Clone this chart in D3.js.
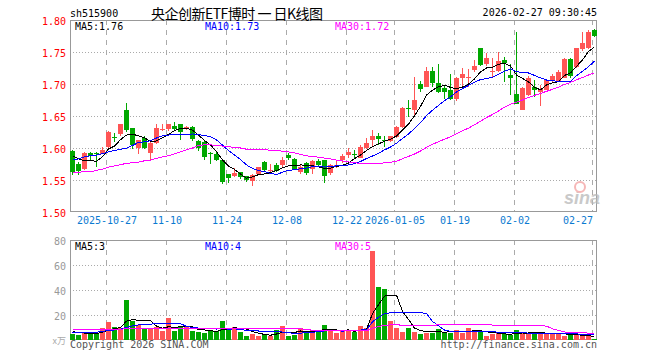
<!DOCTYPE html>
<html>
<head>
<meta charset="utf-8">
<script src="https://cdnjs.cloudflare.com/ajax/libs/d3/7.8.5/d3.min.js"></script>
<style>
  body { margin: 0; background: #fff; }
  svg { display: block; }
  text { font-family: "DejaVu Sans Mono", "Liberation Mono", monospace; font-size: 10px; }
</style>
</head>
<body>
<svg id="chart" width="660" height="360"></svg>
<script>
// daily candles, 2025-10-17 .. 2026-02-27
let opens = [1.596,1.575,1.567,1.592,1.592,1.591,1.601,1.617,1.621,1.659,
  1.631,1.600,1.615,1.593,1.608,1.629,1.629,1.635,1.637,1.630,
  1.633,1.611,1.610,1.592,1.590,1.582,1.559,1.556,1.562,1.556,
  1.549,1.559,1.578,1.564,1.573,1.573,1.589,1.583,1.563,1.576,
  1.567,1.580,1.581,1.562,1.570,1.581,1.588,1.591,1.585,1.600,
  1.611,1.618,1.612,1.610,1.617,1.633,1.663,1.659,1.700,1.696,
  1.721,1.702,1.694,1.690,1.676,1.710,1.710,1.721,1.756,1.730,
  1.720,1.720,1.738,1.714,1.684,1.660,1.683,1.695,1.688,1.691,
  1.705,1.704,1.710,1.739,1.727,1.754,1.757,1.785];
let highs = [1.597,1.578,1.593,1.593,1.594,1.602,1.626,1.623,1.638,1.671,
  1.632,1.613,1.618,1.609,1.637,1.638,1.638,1.640,1.638,1.635,
  1.634,1.612,1.611,1.594,1.594,1.583,1.560,1.568,1.563,1.557,
  1.559,1.571,1.579,1.575,1.576,1.586,1.592,1.584,1.575,1.578,
  1.582,1.583,1.582,1.575,1.580,1.590,1.600,1.597,1.605,1.615,
  1.628,1.623,1.619,1.619,1.635,1.664,1.675,1.711,1.704,1.727,
  1.727,1.732,1.699,1.716,1.711,1.725,1.724,1.737,1.757,1.748,
  1.740,1.750,1.742,1.731,1.782,1.696,1.712,1.706,1.698,1.708,
  1.716,1.722,1.741,1.741,1.757,1.782,1.784,1.786];
let lows = [1.558,1.558,1.566,1.579,1.570,1.590,1.600,1.610,1.619,1.625,
  1.598,1.591,1.598,1.580,1.607,1.627,1.626,1.627,1.613,1.628,
  1.611,1.596,1.581,1.575,1.580,1.544,1.545,1.554,1.552,1.547,
  1.541,1.558,1.562,1.561,1.562,1.571,1.581,1.566,1.560,1.558,
  1.559,1.572,1.546,1.558,1.568,1.576,1.585,1.584,1.584,1.599,
  1.601,1.605,1.602,1.609,1.616,1.632,1.648,1.652,1.688,1.695,
  1.696,1.686,1.677,1.675,1.673,1.696,1.696,1.719,1.728,1.728,
  1.711,1.718,1.703,1.683,1.668,1.659,1.682,1.680,1.666,1.690,
  1.703,1.703,1.709,1.709,1.725,1.752,1.755,1.773];
let closes = [1.563,1.564,1.592,1.587,1.591,1.597,1.625,1.615,1.637,1.627,
  1.604,1.612,1.600,1.608,1.631,1.630,1.637,1.630,1.625,1.633,
  1.614,1.600,1.586,1.591,1.581,1.548,1.552,1.561,1.554,1.549,
  1.558,1.570,1.566,1.565,1.564,1.581,1.584,1.568,1.571,1.560,
  1.579,1.574,1.556,1.574,1.573,1.587,1.593,1.590,1.602,1.608,
  1.618,1.614,1.611,1.618,1.633,1.663,1.662,1.675,1.692,1.721,
  1.702,1.688,1.687,1.676,1.709,1.716,1.711,1.728,1.730,1.740,
  1.721,1.736,1.734,1.710,1.669,1.694,1.710,1.690,1.692,1.706,
  1.712,1.718,1.739,1.712,1.756,1.764,1.782,1.776];
// volume, 万
let volumes = [4.8,4.0,5.9,5.3,5.9,9.6,14.4,10.1,9.6,32.0,
  15.5,11.7,9.6,8.5,10.1,7.2,17.6,7.2,11.2,10.1,
  7.2,6.4,5.6,8.0,6.9,15.2,8.5,10.1,6.4,3.2,
  4.8,3.2,4.5,3.5,8.0,11.2,3.2,4.0,9.6,7.2,
  8.0,6.4,12.0,8.0,5.6,7.2,7.5,6.7,11.2,9.6,
  71.2,42.4,41.1,15.5,9.3,6.4,9.9,6.7,5.1,5.9,
  5.9,8.8,5.9,5.9,8.0,5.9,9.6,7.2,6.4,3.2,
  4.8,5.6,4.5,4.3,8.0,5.6,5.6,5.3,5.3,5.3,
  5.3,5.3,3.2,4.0,3.7,2.9,3.2,1.1];

// moving average values before a full window is available
let ma5Lead = [1.588,1.583,1.580,1.580];
let ma10Lead = [1.581,1.583,1.586,1.588,1.589,1.591,1.594,1.596,1.598];
let ma30Lead = [1.562,1.562,1.563,1.563,1.565,1.567,1.570,1.572,1.574,1.576,
  1.577,1.578,1.580,1.581,1.584,1.586,1.588,1.591,1.594,1.597,
  1.600,1.604,1.605,1.605,1.604,1.603,1.602,1.601,1.600];
let volMa5Lead = [6.7,6.0,5.6,5.6];
let volMa10Lead = [6.2,6.1,6.1,6.1,6.2,6.8,7.6,8.0,8.5];
let volMa30Lead = [8.5,8.5,8.5,8.5,8.5,8.5,8.5,8.5,8.5,9.3,
  9.3,9.3,9.3,9.3,9.3,9.3,9.3,9.3,9.3,9.3,
  9.3,9.3,9.3,9.3,9.3,9.3,9.3,9.3,9.3];

let tickIndex = [6,16,26,36,46,54,64,74,87];
let tickLabels = ['2025-10-27','11-10','11-24','12-08','12-22','2026-01-05','01-19','02-02','02-27'];
let priceTicks = [1.50,1.55,1.60,1.65,1.70,1.75,1.80];
let volumeTicks = [20,40,60,80];
let maLabels = ['MA5:1.76','MA10:1.73','MA30:1.72'];
let volMaLabels = ['MA5:3','MA10:4','MA30:5'];
let maColors = ['#000000','#0000ff','#ff00ff'];

let up = '#ff5555';
let down = '#00a800';
let gridColor = '#aaaaaa';

let svg = d3.select('#chart');
let n = closes.length;

let left = 70, right = 597;
let priceTop = 20, priceBottom = 212;
let volTop = 240, volBottom = 340;

let x = d3.scaleLinear().domain([0, n - 1]).range([72.5, 594.5]);
let xGrid = d3.scaleLinear().domain([0, n - 1]).range([70.5, 592.5]);
let yPrice = d3.scaleLinear().domain([1.50, 1.80]).range([priceBottom, priceTop]);
let yVol = d3.scaleLinear().domain([0, 80]).range([volBottom, volTop]);

function movingAverage(values, len, lead) {
  return values.map(function(v, i) {
    if (i < len - 1) return lead[i];
    return d3.mean(values.slice(i - len + 1, i + 1));
  });
}

let priceMa = [movingAverage(closes, 5, ma5Lead), movingAverage(closes, 10, ma10Lead), movingAverage(closes, 30, ma30Lead)];
let volMa = [movingAverage(volumes, 5, volMa5Lead), movingAverage(volumes, 10, volMa10Lead), movingAverage(volumes, 30, volMa30Lead)];

function isUp(i) {
  return closes[i] >= opens[i];
}

//Grid
function drawGrid(yScale, values, top, bottom) {
  let g = svg.append('g');
  g.selectAll('line.h')
    .data(values)
    .enter()
    .append('line')
    .attr('x1', left)
    .attr('x2', right)
    .attr('y1', function(d) { return Math.round(yScale(d)) + 0.5 })
    .attr('y2', function(d) { return Math.round(yScale(d)) + 0.5 })
    .attr('stroke', gridColor)
    .attr('stroke-dasharray', '1,2');
  g.selectAll('line.v')
    .data(tickIndex)
    .enter()
    .append('line')
    .attr('x1', function(d) { return xGrid(d) })
    .attr('x2', function(d) { return xGrid(d) })
    .attr('y1', top)
    .attr('y2', bottom)
    .attr('stroke', gridColor)
    .attr('stroke-dasharray', '5,5');
  svg.append('rect')
    .attr('x', left + 0.5)
    .attr('y', top + 0.5)
    .attr('width', right - left - 1)
    .attr('height', bottom - top - 1)
    .attr('fill', 'none')
    .attr('stroke', '#999');
}

drawGrid(yPrice, [1.55, 1.60, 1.65, 1.70, 1.75], priceTop, priceBottom);
drawGrid(yVol, [20, 40, 60], volTop, volBottom);

// sina watermark
let mark = svg.append('g').attr('opacity', 0.75);
mark.append('text')
  .attr('x', 564)
  .attr('y', 204)
  .style('font-family', 'Arial, "Liberation Sans", sans-serif')
  .style('font-size', '18px')
  .style('font-style', 'italic')
  .style('font-weight', 'bold')
  .attr('fill', '#b8b8b8')
  .text('sina');
mark.append('circle')
  .attr('cx', 580)
  .attr('cy', 187)
  .attr('r', 5)
  .attr('fill', 'none')
  .attr('stroke', '#f3a0a0')
  .attr('stroke-width', 2);

//Candles
let candles = svg.append('g').attr('shape-rendering', 'crispEdges');
candles.selectAll('line')
  .data(closes)
  .enter()
  .append('line')
  .attr('x1', function(d, i) { return x(i) })
  .attr('x2', function(d, i) { return x(i) })
  .attr('y1', function(d, i) { return yPrice(highs[i]) })
  .attr('y2', function(d, i) { return yPrice(lows[i]) })
  .attr('stroke', function(d, i) { return isUp(i) ? up : down });
candles.selectAll('rect')
  .data(closes)
  .enter()
  .append('rect')
  .attr('x', function(d, i) { return x(i) - 2.5 })
  .attr('width', 5)
  .attr('y', function(d, i) { return Math.round(yPrice(Math.max(opens[i], d))) })
  .attr('height', function(d, i) {
    return Math.max(1, Math.round(Math.abs(yPrice(opens[i]) - yPrice(d))))
  })
  .attr('fill', function(d, i) { return isUp(i) ? up : down });

//Volume bars
svg.append('g')
  .attr('shape-rendering', 'crispEdges')
  .selectAll('rect')
  .data(volumes)
  .enter()
  .append('rect')
  .attr('x', function(d, i) { return x(i) - 2.5 })
  .attr('width', 5)
  .attr('y', function(d) { return Math.round(yVol(d)) })
  .attr('height', function(d) { return volBottom - Math.round(yVol(d)) })
  .attr('fill', function(d, i) { return isUp(i) ? up : down });

//Moving average lines
function drawLines(series, yScale) {
  let line = d3.line()
    .x(function(d, i) { return x(i) })
    .y(function(d) { return yScale(d) });
  svg.append('g')
    .selectAll('path')
    .data(series)
    .enter()
    .append('path')
    .attr('d', line)
    .attr('fill', 'none')
    .attr('stroke', function(d, k) { return maColors[k] })
    .attr('stroke-width', 1)
    .attr('shape-rendering', 'crispEdges');
}
drawLines(priceMa, yPrice);
drawLines(volMa, yVol);

//Axes
let priceAxis = svg.append('g')
  .attr('transform', 'translate(' + left + ',0)')
  .call(d3.axisLeft(yPrice).tickValues(priceTicks).tickFormat(d3.format('.2f')).tickSize(0).tickPadding(4));
let volAxis = svg.append('g')
  .attr('transform', 'translate(' + left + ',0)')
  .call(d3.axisLeft(yVol).tickValues(volumeTicks).tickSize(0).tickPadding(4));
let dateAxis = svg.append('g')
  .attr('transform', 'translate(0,' + priceBottom + ')')
  .call(d3.axisBottom(xGrid).tickValues(tickIndex).tickFormat(function(d, k) { return tickLabels[k] }).tickSize(0).tickPadding(5));

[priceAxis, volAxis, dateAxis].forEach(function(a) {
  a.select('.domain').remove();
  a.selectAll('text').attr('font-family', null).attr('font-size', null);
});
priceAxis.selectAll('text').attr('fill', '#ff0000').attr('dy', '0.42em');
volAxis.selectAll('text').attr('fill', '#999999').attr('dy', '0.42em');
dateAxis.selectAll('text').attr('fill', '#0b7ad1');
dateAxis.selectAll('.tick:last-of-type text').attr('text-anchor', 'end');

//Labels
function drawMaLabels(labels, y) {
  svg.append('g')
    .selectAll('text')
    .data(labels)
    .enter()
    .append('text')
    .attr('x', function(d, k) { return [75, 205, 335][k] })
    .attr('y', y)
    .attr('fill', function(d, k) { return maColors[k] })
    .text(function(d) { return d });
}
drawMaLabels(maLabels, 30);
drawMaLabels(volMaLabels, 250);

svg.append('text')
  .attr('x', 70)
  .attr('y', 16.5)
  .attr('fill', '#000')
  .text('sh515900');
svg.append('text')
  .attr('x', 151)
  .attr('y', 18.5)
  .style('font-family', '"Noto Sans CJK SC", sans-serif')
  .style('font-size', '14px')
  .attr('textLength', 172)
  .attr('lengthAdjust', 'spacing')
  .attr('fill', '#000')
  .text('央企创新ETF博时 一 日K线图');
svg.append('text')
  .attr('x', 597)
  .attr('y', 16)
  .attr('text-anchor', 'end')
  .attr('fill', '#000')
  .text('2026-02-27 09:30:45');
svg.append('text')
  .attr('x', 66)
  .attr('y', 344)
  .attr('text-anchor', 'end')
  .style('font-family', '"Noto Sans CJK SC", sans-serif')
  .style('font-size', '9px')
  .attr('fill', '#aaaaaa')
  .text('x万');
svg.append('text')
  .attr('x', 70)
  .attr('y', 347.5)
  .attr('fill', '#555')
  .text('Copyright 2026 SINA.COM');
svg.append('text')
  .attr('x', 597)
  .attr('y', 347.5)
  .attr('text-anchor', 'end')
  .attr('fill', '#555')
  .text('http://finance.sina.com.cn');
</script>
</body>
</html>
